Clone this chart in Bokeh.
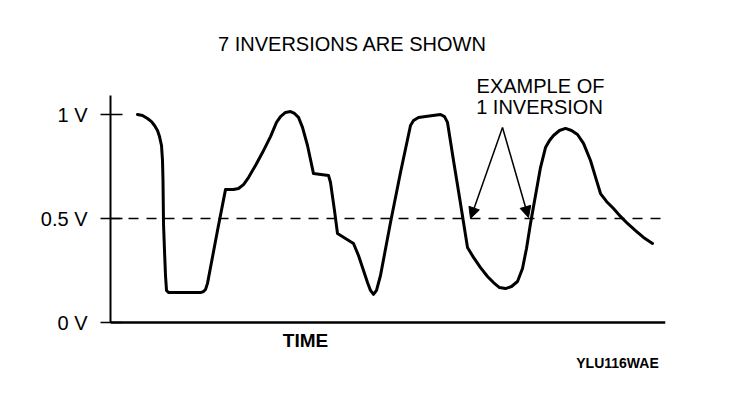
from bokeh.plotting import figure
from bokeh.models import Range1d, FixedTicker, Span, Label, Arrow, NormalHead
from bokeh.embed import file_html
from bokeh.resources import INLINE

# O2 sensor voltage trace (time in arbitrary units, voltage in V)
time = [27, 32, 37, 41, 44, 47, 49, 51, 52, 52.5, 53, 54, 55, 56, 58,
        90, 93, 95, 97, 100, 107, 115, 123, 128, 133, 138, 145, 152, 160, 166, 170,
        175, 180, 184, 188, 192, 197, 203, 218, 220, 224, 227, 235, 243, 248, 253,
        257, 260, 263, 266, 270, 280, 290, 300, 303, 308, 315, 330, 334, 337, 343,
        350, 357, 363, 370, 377, 383, 389, 395, 401, 407, 412, 416, 420, 425, 430,
        435, 439, 443, 449, 455, 461, 467, 473, 480, 486, 490, 496, 503, 510, 517,
        525, 533, 542]
volts = [1.0, 0.995, 0.981, 0.966, 0.947, 0.923, 0.894, 0.851, 0.779, 0.683, 0.476,
         0.346, 0.226, 0.154, 0.144,
         0.144, 0.149, 0.159, 0.188, 0.264, 0.442, 0.639, 0.639, 0.644, 0.663, 0.697,
         0.755, 0.817, 0.894, 0.962, 0.990, 1.010, 1.014, 1.005, 0.986, 0.938, 0.851,
         0.716, 0.707, 0.673, 0.538, 0.428, 0.404, 0.38, 0.322, 0.25, 0.192, 0.154,
         0.135, 0.154, 0.226, 0.481, 0.721, 0.947, 0.971, 0.986, 0.99, 1.0, 0.99,
         0.962, 0.779, 0.572, 0.361, 0.313, 0.264, 0.221, 0.192, 0.168, 0.163, 0.173,
         0.197, 0.26, 0.356, 0.476, 0.611, 0.745, 0.841, 0.875, 0.899, 0.923, 0.933,
         0.923, 0.904, 0.861, 0.779, 0.683, 0.62, 0.582, 0.548, 0.51, 0.476, 0.442,
         0.409, 0.38]

y_ticks = [0, 0.5, 1]
y_tick_labels = ["0 V", "0.5 V", "1 V"]
threshold = 0.5
y_axis_top = 1.091

title_text = "7 INVERSIONS ARE SHOWN"
note_lines = ["EXAMPLE OF", "1 INVERSION"]
x_label = "TIME"
code_text = "YLU116WAE"
arrow_apex = (392, 0.9375)
arrow_targets = [(360, 0.50), (418, 0.505)]

FONT = "Liberation Sans"

p = figure(width=752, height=394, output_backend="svg", toolbar_location=None,
           x_range=Range1d(0, 555), y_range=Range1d(-72 / 208, 322 / 208),
           x_axis_location=None,
           min_border_left=110, min_border_right=87, min_border_top=0,
           min_border_bottom=0)
p.outline_line_color = None
p.grid.visible = False
p.background_fill_color = "white"
p.border_fill_color = "white"

# y axis
p.yaxis.bounds = (0, y_axis_top)
p.yaxis.ticker = FixedTicker(ticks=y_ticks)
p.yaxis.major_label_overrides = {t: l for t, l in zip(y_ticks, y_tick_labels)}
p.yaxis.major_tick_in = 12
p.yaxis.major_tick_out = 10
p.yaxis.minor_tick_in = 0
p.yaxis.minor_tick_out = 0
p.yaxis.axis_line_width = 2
p.yaxis.major_tick_line_width = 1.5
p.yaxis.major_label_standoff = 13
p.yaxis.major_label_text_font = FONT
p.yaxis.major_label_text_font_size = "20px"
p.yaxis.major_label_text_color = "black"
p.yaxis.axis_line_color = "black"
p.yaxis.major_tick_line_color = "black"

# time axis baseline at 0 V
p.add_layout(Span(location=0, dimension="width", line_color="black", line_width=2.5))

# threshold line
p.add_layout(Span(location=threshold, dimension="width", line_color="black",
                  line_width=1.5, line_dash="10 8"))

# trace
p.line(time, volts, line_color="black", line_width=3, line_join="round",
       line_cap="round")

# arrows
for tx, ty in arrow_targets:
    p.add_layout(Arrow(x_start=arrow_apex[0], y_start=arrow_apex[1], x_end=tx, y_end=ty,
                       line_width=1.5, line_color="black",
                       end=NormalHead(size=11, fill_color="black", line_color="black")))

# texts
p.add_layout(Label(x=242, y=1.341, text=title_text, text_align="center",
                   text_baseline="middle", text_font=FONT, text_font_size="20px",
                   text_color="black"))
p.add_layout(Label(x=430, y=1.139, text=note_lines[0], text_align="center",
                   text_baseline="middle", text_font=FONT, text_font_size="20px",
                   text_color="black"))
p.add_layout(Label(x=429, y=1.034, text=note_lines[1], text_align="center",
                   text_baseline="middle", text_font=FONT, text_font_size="20px",
                   text_color="black"))
p.add_layout(Label(x=195, y=-0.0865, text=x_label, text_align="center",
                   text_baseline="middle", text_font=FONT, text_font_size="19px",
                   text_font_style="bold", text_color="black"))
p.add_layout(Label(x=507, y=-0.197, text=code_text, text_align="center",
                   text_baseline="middle", text_font=FONT, text_font_size="14px",
                   text_font_style="bold", text_color="black"))

open("out.html", "w").write(file_html(p, INLINE))
